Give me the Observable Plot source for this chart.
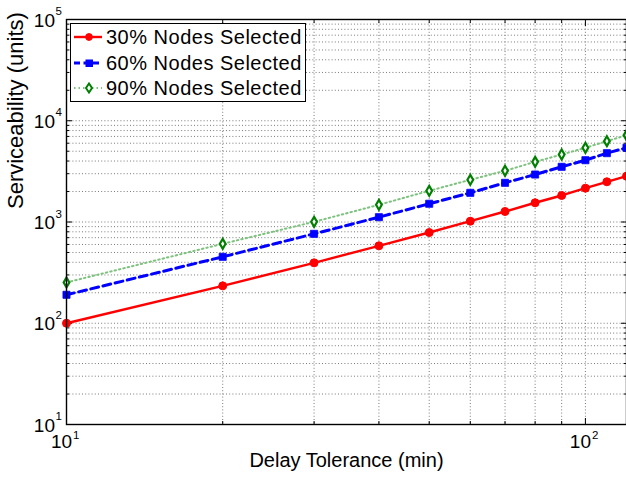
<!DOCTYPE html>
<html><head><meta charset="utf-8">
<script src="https://cdn.jsdelivr.net/npm/d3@7"></script>
<script src="https://cdn.jsdelivr.net/npm/@observablehq/plot@0.6"></script>
<style>
body{margin:0;background:#fff;}
#wrap{position:relative;width:626px;height:483px;overflow:hidden;background:#fff;}
#legend{position:absolute;left:70px;top:23px;width:236px;height:79px;border:1.3px solid #000;background:#fff;box-sizing:border-box;font-family:"Liberation Sans",Arial,Helvetica,sans-serif;font-size:20px;letter-spacing:0.5px;color:#000;}
.row{position:absolute;left:0;height:24px;display:flex;align-items:center;white-space:nowrap;}
.row svg{display:block;}
</style></head><body><div id="wrap"></div>
<script>
// ---- data ----
const delayTolerance = [10, 20, 30, 40, 50, 60, 70, 80, 90, 100, 110, 120];
const nodes30 = [100, 234, 395, 582, 787, 1018, 1270, 1549, 1828, 2158, 2496, 2833];
const nodes60 = [191, 453, 764, 1116, 1514, 1941, 2437, 2944, 3508, 4076, 4785, 5408];
const nodes90 = [253, 609, 1004, 1479, 2033, 2611, 3206, 3929, 4641, 5408, 6285, 7197];
const seriesNames = ["30% Nodes Selected", "60% Nodes Selected", "90% Nodes Selected"];
const xTickValues = [10, 100];
const xGridValues = [20, 30, 40, 50, 60, 70, 80, 90, 100];
const yTickValues = [10, 100, 1000, 10000, 100000];
const yMinorValues = [20,30,40,50,60,70,80,90,200,300,400,500,600,700,800,900,2000,3000,4000,5000,6000,7000,8000,9000,20000,30000,40000,50000,60000,70000,80000,90000];
const xLabel = "Delay Tolerance (min)";
const yLabel = "Serviceability (units)";

const tbl = (ys) => delayTolerance.map((x, i) => ({x, y: ys[i]}));
const d30 = tbl(nodes30), d60 = tbl(nodes60), d90 = tbl(nodes90);

const font = "'Liberation Sans', Arial, Helvetica, sans-serif";
const grid = {stroke: "#7a7a7a", strokeDasharray: "1,2.2", strokeWidth: 1};

const chart = Plot.plot({
  width: 626, height: 483,
  marginLeft: 66, marginRight: 0, marginTop: 19, marginBottom: 59,
  style: {fontFamily: font, background: "white", color: "black", overflow: "visible"},
  x: {type: "log", domain: [10, 120], axis: null},
  y: {type: "log", domain: [10, 100000], axis: null},
  marks: [
    Plot.ruleY(yTickValues.concat(yMinorValues), {y: d => d, ...grid}),
    Plot.ruleX(xGridValues, {x: d => d, ...grid}),
    Plot.axisY(yTickValues, {anchor: "left", tickSize: -6, tickFormat: () => "", label: null, strokeWidth: 1}),
    Plot.axisY(yMinorValues, {anchor: "left", tickSize: -3, tickFormat: () => "", label: null, strokeWidth: 1}),
    Plot.axisY(yTickValues, {anchor: "right", tickSize: -6, tickFormat: () => "", label: null, strokeWidth: 1}),
    Plot.axisY(yMinorValues, {anchor: "right", tickSize: -3, tickFormat: () => "", label: null, strokeWidth: 1}),
    Plot.axisX(xTickValues, {anchor: "bottom", tickSize: -6, tickFormat: () => "", label: null, strokeWidth: 1}),
    Plot.axisX(xGridValues.slice(0, 8), {anchor: "bottom", tickSize: -3, tickFormat: () => "", label: null, strokeWidth: 1}),
    Plot.axisX(xTickValues, {anchor: "top", tickSize: -6, tickFormat: () => "", label: null, strokeWidth: 1}),
    Plot.axisX(xGridValues.slice(0, 8), {anchor: "top", tickSize: -3, tickFormat: () => "", label: null, strokeWidth: 1}),
    // series
    Plot.line(d90, {x: "x", y: "y", stroke: "#7fc27f", strokeWidth: 2, strokeDasharray: "1.5,3"}),
    Plot.line(d60, {x: "x", y: "y", stroke: "#0000ff", strokeWidth: 3, strokeDasharray: "8,4.5"}),
    Plot.line(d30, {x: "x", y: "y", stroke: "#ff0000", strokeWidth: 2.4}),
    Plot.dot(d30, {x: "x", y: "y", r: 4, fill: "#ff0000", stroke: "#ff0000", strokeWidth: 1}),
    Plot.dot(d60, {x: "x", y: "y", symbol: "square", r: 4, fill: "#0000ff", stroke: "#0000ff", strokeWidth: 0.8}),
    Plot.dot(d90, {x: "x", y: "y", symbol: "diamond", r: 3, fill: "white", stroke: "#007f00", strokeWidth: 2.2}),
    // frame
    Plot.frame({stroke: "black", strokeWidth: 1.4}),
    // y tick labels
    Plot.text(yTickValues, {y: d => d, frameAnchor: "left", text: () => "10", textAnchor: "end", dx: -11.5, dy: 1, fontSize: 19}),
    Plot.text(yTickValues, {y: d => d, frameAnchor: "left", text: d => String(Math.round(Math.log10(d))), textAnchor: "start", dx: -11, dy: -8, fontSize: 11.5}),
    // x tick labels
    Plot.text(xTickValues, {x: d => d, frameAnchor: "bottom", text: () => "10", textAnchor: "middle", dx: -5, dy: 23, fontSize: 19}),
    Plot.text(xTickValues, {x: d => d, frameAnchor: "bottom", text: d => String(Math.round(Math.log10(d))), textAnchor: "start", dx: 6.5, dy: 14, fontSize: 11.5}),
    // axis titles
    Plot.text([xLabel], {text: d => d, frameAnchor: "bottom", dy: 42, fontSize: 20, letterSpacing: "0.5px"}),
    Plot.text([yLabel], {text: d => d, frameAnchor: "left", rotate: -90, dx: -51, dy: -13, fontSize: 22, letterSpacing: "0.8px"})
  ]
});

const wrap = document.getElementById("wrap");
wrap.appendChild(chart);

// legend
const legendStyles = [
  {line: {stroke: "#ff0000", w: 2.4, dash: null}, marker: "circle", fill: "#ff0000", stroke: "#ff0000"},
  {line: {stroke: "#0000ff", w: 3, dash: "6,3.5"}, marker: "square", fill: "#0000ff", stroke: "#0000ff"},
  {line: {stroke: "#7fc27f", w: 2, dash: "1.5,3"}, marker: "diamond", fill: "white", stroke: "#007f00"}
];
const legendRowCenters = [13, 39, 64];
const legend = document.createElement("div");
legend.id = "legend";
seriesNames.forEach((name, i) => {
  const s = legendStyles[i];
  const row = document.createElement("div");
  row.className = "row";
  row.style.top = (legendRowCenters[i] - 12) + "px";
  const ns = "http://www.w3.org/2000/svg";
  const svg = document.createElementNS(ns, "svg");
  svg.setAttribute("width", 35); svg.setAttribute("height", 24);
  const ln = document.createElementNS(ns, "line");
  ln.setAttribute("x1", 3); ln.setAttribute("x2", 31); ln.setAttribute("y1", 12); ln.setAttribute("y2", 12);
  ln.setAttribute("stroke", s.line.stroke); ln.setAttribute("stroke-width", s.line.w);
  if (s.line.dash) ln.setAttribute("stroke-dasharray", s.line.dash);
  svg.appendChild(ln);
  let m;
  if (s.marker === "circle") {
    m = document.createElementNS(ns, "circle");
    m.setAttribute("cx", 18); m.setAttribute("cy", 12); m.setAttribute("r", 3.4);
  } else if (s.marker === "square") {
    m = document.createElementNS(ns, "rect");
    m.setAttribute("x", 15); m.setAttribute("y", 9); m.setAttribute("width", 6.5); m.setAttribute("height", 6.5);
  } else {
    m = document.createElementNS(ns, "path");
    m.setAttribute("d", "M18,7.5L21,12L18,16.5L15,12Z");
    m.setAttribute("stroke-width", 2);
  }
  m.setAttribute("fill", s.fill); m.setAttribute("stroke", s.stroke);
  svg.appendChild(m);
  row.appendChild(svg);
  const t = document.createElement("span");
  t.textContent = name;
  row.appendChild(t);
  legend.appendChild(row);
});
wrap.appendChild(legend);
</script>
</body></html>
